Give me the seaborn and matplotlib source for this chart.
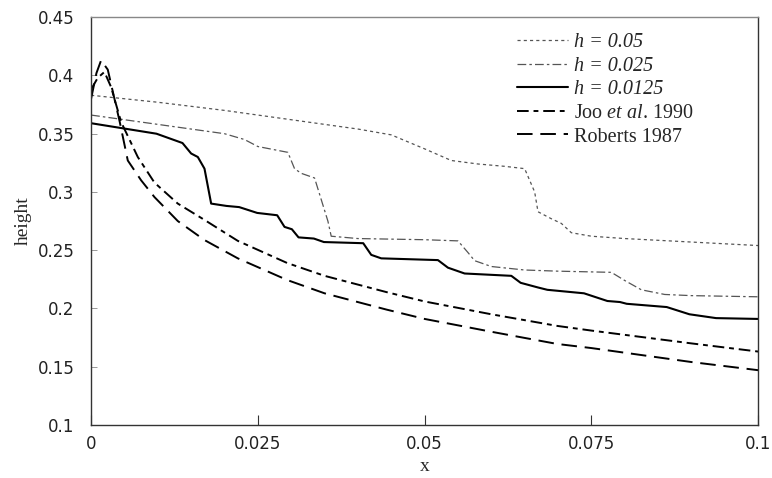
import numpy as np
import pandas as pd
import seaborn as sns
from matplotlib import pyplot as plt
from matplotlib.ticker import MultipleLocator

# h = 0.05
x_h05 = [0, 0.01, 0.02, 0.03, 0.04, 0.045, 0.05, 0.054, 0.058, 0.062, 0.065,
         0.0665, 0.067, 0.069, 0.0705, 0.072, 0.075, 0.08, 0.09, 0.1]
y_h05 = [0.383, 0.377, 0.370, 0.362, 0.354, 0.349, 0.337, 0.327, 0.324, 0.322, 0.320,
         0.300, 0.283, 0.277, 0.273, 0.265, 0.262, 0.260, 0.257, 0.254]

# h = 0.025
x_h025 = [0, 0.01, 0.02, 0.023, 0.025, 0.0295, 0.0305, 0.0315, 0.0335, 0.0355, 0.036,
          0.04, 0.05, 0.055, 0.0565, 0.0575, 0.06, 0.065, 0.07, 0.078, 0.08, 0.0825,
          0.086, 0.09, 0.1]
y_h025 = [0.366, 0.358, 0.350, 0.345, 0.339, 0.334, 0.320, 0.316, 0.312, 0.275, 0.262,
          0.260, 0.259, 0.258, 0.248, 0.241, 0.236, 0.233, 0.232, 0.231, 0.224, 0.216,
          0.212, 0.211, 0.210]

# h = 0.0125
x_h0125 = [0, 0.0098, 0.0137, 0.015, 0.016, 0.017, 0.018, 0.0203, 0.0222, 0.0249, 0.0279,
           0.029, 0.0301, 0.0311, 0.0334, 0.0349, 0.0408, 0.042, 0.0435, 0.052, 0.0535,
           0.056, 0.063, 0.0644, 0.067, 0.0684, 0.0739, 0.0774, 0.0793, 0.0803, 0.0863,
           0.0897, 0.0937, 0.1]
y_h0125 = [0.359, 0.350, 0.342, 0.333, 0.330, 0.320, 0.290, 0.288, 0.287, 0.282, 0.280,
           0.270, 0.268, 0.261, 0.260, 0.257, 0.256, 0.246, 0.243, 0.2415, 0.235,
           0.230, 0.228, 0.222, 0.218, 0.216, 0.213, 0.2064, 0.2055, 0.204, 0.2012,
           0.195, 0.1917, 0.191]

# Joo et al. 1990
x_joo = [0, 0.001, 0.002, 0.003, 0.0045, 0.007, 0.0095, 0.013, 0.017, 0.022, 0.0294,
         0.035, 0.0443, 0.05, 0.06, 0.0699, 0.075, 0.09, 0.1]
y_joo = [0.388, 0.398, 0.403, 0.390, 0.360, 0.330, 0.308, 0.290, 0.276, 0.258, 0.239,
         0.228, 0.214, 0.206, 0.195, 0.185, 0.181, 0.170, 0.163]

# Roberts 1987
x_rob = [0, 0.0008, 0.0015, 0.0025, 0.0043, 0.0055, 0.0075, 0.0095, 0.013, 0.017, 0.022,
         0.0294, 0.035, 0.0443, 0.05, 0.06, 0.0699, 0.075, 0.09, 0.1]
y_rob = [0.380, 0.402, 0.413, 0.405, 0.360, 0.327, 0.310, 0.2956, 0.275, 0.2587, 0.243,
         0.2244, 0.213, 0.199, 0.191, 0.180, 0.1695, 0.166, 0.154, 0.147]

sns.set_style("white")
plt.rcParams['mathtext.fontset'] = 'custom'
plt.rcParams['mathtext.rm'] = 'Liberation Serif'
plt.rcParams['mathtext.it'] = 'Liberation Serif:italic'

fig, ax = plt.subplots(figsize=(7.72, 4.78), dpi=100)
fig.subplots_adjust(left=0.118, right=0.982, top=0.964, bottom=0.111)

sns.lineplot(x=x_h05, y=y_h05, ax=ax, color="#555555", lw=0.9,
             linestyle=(0, (2.5, 2.5)), label="h = 0.05")
sns.lineplot(x=x_h025, y=y_h025, ax=ax, color="#555555", lw=0.9,
             linestyle=(0, (7, 2.5, 2, 2.5)), label="h = 0.025")
sns.lineplot(x=x_h0125, y=y_h0125, ax=ax, color="black", lw=1.5,
             linestyle="-", label="h = 0.0125")
sns.lineplot(x=x_joo, y=y_joo, ax=ax, color="black", lw=1.4,
             linestyle=(0, (6, 2.5, 2.5, 2.5)), label=r"Joo $et\ al$. 1990")
sns.lineplot(x=x_rob, y=y_rob, ax=ax, color="black", lw=1.4,
             linestyle=(0, (8, 4)), label="Roberts 1987")

ax.set_xlim(0, 0.1)
ax.set_ylim(0.1, 0.45)
ax.xaxis.set_major_locator(MultipleLocator(0.025))
ax.xaxis.set_minor_locator(MultipleLocator(0.005))
ax.yaxis.set_major_locator(MultipleLocator(0.05))
ax.xaxis.set_major_formatter(plt.FuncFormatter(lambda v, p: f"{v:g}"))
ax.yaxis.set_major_formatter(plt.FuncFormatter(lambda v, p: f"{v:g}"))
ax.tick_params(axis="x", which="major", direction="in", length=7, width=0.8,
               color="#333333", labelsize=12, labelcolor="#222222", pad=7)
ax.tick_params(axis="x", which="minor", direction="in", length=3, width=0.6,
               color="#555555")
ax.tick_params(axis="y", which="major", direction="in", length=4, width=0.6,
               color="#888888", labelsize=12, labelcolor="#222222", pad=12)
ax.tick_params(bottom=True, left=True, top=False, right=False)
for side in ["left", "bottom", "right", "top"]:
    ax.spines[side].set_color("#333333")
    ax.spines[side].set_linewidth(1.0)
ax.spines["top"].set_color("#888888")

ax.set_xlabel("x", family="Liberation Serif", fontsize=14, labelpad=4)
ax.set_ylabel("height", family="Liberation Serif", fontsize=14, labelpad=4)

leg = ax.legend(loc="upper right", bbox_to_anchor=(0.93, 1.005), frameon=False,
                prop={"family": "Liberation Serif", "size": 14.5},
                handlelength=2.5, handletextpad=0.3, labelspacing=0.22)
for i, t in enumerate(leg.get_texts()):
    if i < 3:
        t.set_fontstyle("italic")

fig.savefig("out.png", dpi=100)
